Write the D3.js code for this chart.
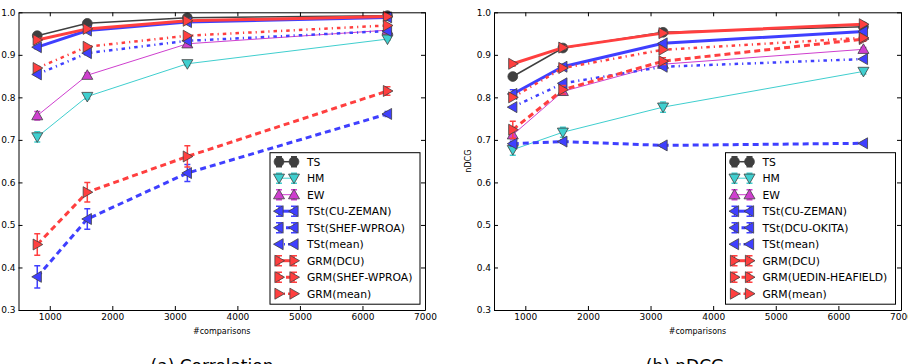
<!DOCTYPE html>
<html>
<head>
<meta charset="utf-8">
<script src="https://cdn.jsdelivr.net/npm/d3@7"></script>
<style>
  body { margin: 0; background: #fff; }
  svg { display: block; }
  text { font-family: "DejaVu Sans", sans-serif; }
</style>
</head>
<body>
<div id="chart"></div>
<script>
// x values shared by both panels
const comparisons = [800, 1600, 3200, 6400];
const xTicks = [1000, 2000, 3000, 4000, 5000, 6000, 7000];
const yTicks = [0.3, 0.4, 0.5, 0.6, 0.7, 0.8, 0.9, 1.0];

// (a) correlation
const corrTS = [0.945, 0.974, 0.987, 0.992];
const corrHM = [0.707, 0.802, 0.879, 0.937];
const corrEW = [0.757, 0.852, 0.926, 0.958];
const corrTStCU = [0.918, 0.957, 0.977, 0.988];
const corrTStShef = [0.378, 0.514, 0.622, 0.761];
const corrTStMean = [0.854, 0.904, 0.933, 0.956];
const corrGrmDCU = [0.935, 0.961, 0.980, 0.990];
const corrGrmShef = [0.454, 0.577, 0.661, 0.815];
const corrGrmMean = [0.869, 0.919, 0.945, 0.969];

const corrErrTS = [0.004, 0.003, 0.002, 0.002];
const corrErrHM = [0.012, 0.006, 0.004, 0.003];
const corrErrEW = [0.010, 0.006, 0.004, 0.003];
const corrErrTStCU = [0.004, 0.003, 0.002, 0.002];
const corrErrTStShef = [0.026, 0.024, 0.020, 0.006];
const corrErrGrmDCU = [0.004, 0.003, 0.002, 0.002];
const corrErrGrmShef = [0.025, 0.023, 0.025, 0.010];

// (b) nDCG
const ndcgTS = [0.849, 0.916, 0.953, 0.966];
const ndcgHM = [0.677, 0.718, 0.777, 0.861];
const ndcgEW = [0.712, 0.814, 0.878, 0.913];
const ndcgTStCU = [0.808, 0.872, 0.927, 0.955];
const ndcgTStOkita = [0.691, 0.696, 0.687, 0.692];
const ndcgTStMean = [0.777, 0.833, 0.872, 0.890];
const ndcgGrmDCU = [0.879, 0.917, 0.951, 0.972];
const ndcgGrmUedin = [0.724, 0.818, 0.885, 0.937];
const ndcgGrmMean = [0.800, 0.869, 0.912, 0.940];

const ndcgErrTS = [0.006, 0.004, 0.003, 0.002];
const ndcgErrHM = [0.013, 0.012, 0.012, 0.006];
const ndcgErrEW = [0.010, 0.008, 0.005, 0.004];
const ndcgErrTStCU = [0.010, 0.006, 0.004, 0.003];
const ndcgErrTStOkita = [0.006, 0.004, 0.003, 0.002];
const ndcgErrGrmDCU = [0.005, 0.004, 0.003, 0.002];
const ndcgErrGrmUedin = [0.020, 0.010, 0.008, 0.005];

const corrLabels = ['TS', 'HM', 'EW', 'TSt(CU-ZEMAN)', 'TSt(SHEF-WPROA)', 'TSt(mean)',
  'GRM(DCU)', 'GRM(SHEF-WPROA)', 'GRM(mean)'];
const ndcgLabels = ['TS', 'HM', 'EW', 'TSt(CU-ZEMAN)', 'TSt(DCU-OKITA)', 'TSt(mean)',
  'GRM(DCU)', 'GRM(UEDIN-HEAFIELD)', 'GRM(mean)'];

// one style per series slot, same in both panels
const styles = [
  {color: '#000', width: 1.5, dash: null, marker: 'circle'},
  {color: '#00bfbf', width: 1, dash: null, marker: 'down'},
  {color: '#bf00bf', width: 1, dash: null, marker: 'up'},
  {color: '#0000ff', width: 3, dash: null, marker: 'left'},
  {color: '#0000ff', width: 3, dash: '6,4', marker: 'left'},
  {color: '#0000ff', width: 2.5, dash: '3.5,4,1.2,4', marker: 'left'},
  {color: '#ff0000', width: 3, dash: null, marker: 'right'},
  {color: '#ff0000', width: 3, dash: '6,4', marker: 'right'},
  {color: '#ff0000', width: 2.5, dash: '3.5,4,1.2,4', marker: 'right'},
];

const width = 908;
const height = 364;
const svg = d3.select('#chart').append('svg')
    .attr('width', width)
    .attr('height', height);

function markerPath(type) {
  const r = 5.5;
  if (type === 'up') return `M0,${-r}L${r},${r * 0.75}L${-r},${r * 0.75}Z`;
  if (type === 'down') return `M0,${r}L${r},${-r * 0.75}L${-r},${-r * 0.75}Z`;
  if (type === 'left') return `M${-r},0L${r * 0.75},${-r}L${r * 0.75},${r}Z`;
  if (type === 'right') return `M${r},0L${-r * 0.75},${-r}L${-r * 0.75},${r}Z`;
  return d3.symbol(d3.symbolCircle, 75)();
}

function drawPanel(left, right, values, errors, labels, yLabel, caption, legendX, legendW) {
  const top = 12.3;
  const bottom = 310;
  const x = d3.scaleLinear().domain([500, 7000]).range([left, right]);
  const y = d3.scaleLinear().domain([0.3, 1.0]).range([bottom, top]);
  const g = svg.append('g');

  const tick = (axis) => axis.tickSizeInner(-4).tickSizeOuter(0);
  g.append('g').attr('transform', `translate(0,${bottom})`)
      .call(tick(d3.axisBottom(x)).tickValues(xTicks).tickPadding(4).tickFormat(d3.format('d')));
  g.append('g').attr('transform', `translate(0,${top})`)
      .call(tick(d3.axisTop(x)).tickValues(xTicks).tickFormat(''));
  g.append('g').attr('transform', `translate(${left},0)`)
      .call(tick(d3.axisLeft(y)).tickValues(yTicks).tickPadding(3).tickFormat(d3.format('.1f')));
  g.append('g').attr('transform', `translate(${right},0)`)
      .call(tick(d3.axisRight(y)).tickValues(yTicks).tickFormat(''));
  g.selectAll('.domain').attr('stroke', '#000');
  g.selectAll('.tick line').attr('stroke', '#000');
  g.selectAll('.tick text').attr('font-size', 9).attr('fill', '#000');

  g.append('text')
      .attr('x', (left + right) / 2).attr('y', 334)
      .attr('text-anchor', 'middle').attr('font-size', 8)
      .text('#comparisons');
  if (yLabel) {
    g.append('text')
        .attr('transform', `translate(${left - 23},${(top + bottom) / 2}) rotate(-90)`)
        .attr('text-anchor', 'middle').attr('font-size', 8)
        .text(yLabel);
  }
  g.append('text')
      .attr('x', caption.x).attr('y', 372)
      .attr('text-anchor', 'middle')
      .attr('font-family', '"Liberation Serif", serif')
      .attr('font-size', 17)
      .text(caption.text);

  const line = d3.line().x((d) => x(d[0])).y((d) => y(d[1]));
  const plot = g.append('g').attr('opacity', 0.75);

  values.forEach((vals, i) => {
    const st = styles[i];
    const pts = comparisons.map((c, j) => [c, vals[j]]);
    const s = plot.append('g');
    s.append('path')
        .attr('d', line(pts))
        .attr('fill', 'none')
        .attr('stroke', st.color)
        .attr('stroke-width', st.width)
        .attr('stroke-dasharray', st.dash);
    if (errors[i]) {
      pts.forEach((p, j) => {
        const e = errors[i][j];
        const px = x(p[0]);
        s.append('path')
            .attr('d', `M${px},${y(p[1] - e)}V${y(p[1] + e)}` +
              `M${px - 3},${y(p[1] - e)}H${px + 3}M${px - 3},${y(p[1] + e)}H${px + 3}`)
            .attr('stroke', st.color)
            .attr('stroke-width', 1.5)
            .attr('fill', 'none');
      });
    }
    s.selectAll('.m').data(pts).enter().append('path')
        .attr('transform', (d) => `translate(${x(d[0])},${y(d[1])})`)
        .attr('d', markerPath(st.marker))
        .attr('fill', st.color)
        .attr('stroke', '#000')
        .attr('stroke-width', 0.8);
  });

  // legend
  const lgTop = 152.7;
  const lg = g.append('g');
  lg.append('rect')
      .attr('x', legendX).attr('y', lgTop)
      .attr('width', legendW).attr('height', 151.5)
      .attr('fill', '#fff').attr('stroke', '#000');
  labels.forEach((lab, i) => {
    const st = styles[i];
    const ly = 161.7 + i * 16.5;
    const x1 = legendX + 9;
    const x2 = legendX + 24;
    const item = lg.append('g').attr('opacity', 0.75);
    item.append('path')
        .attr('d', `M${x1},${ly}H${x2}`)
        .attr('stroke', st.color)
        .attr('stroke-width', st.width)
        .attr('stroke-dasharray', st.dash ? (st.dash === '6,4' ? '4,3' : '2,3,1,3') : null);
    [x1, x2].forEach((mx) => {
      if (errors[i]) {
        item.append('path')
            .attr('d', `M${mx},${ly - 5}V${ly + 5}M${mx - 3},${ly - 5}H${mx + 3}` +
              `M${mx - 3},${ly + 5}H${mx + 3}`)
            .attr('stroke', st.color).attr('stroke-width', 1.5);
      }
      item.append('path')
          .attr('transform', `translate(${mx},${ly})`)
          .attr('d', markerPath(st.marker))
          .attr('fill', st.color)
          .attr('stroke', '#000')
          .attr('stroke-width', 0.8);
    });
    lg.append('text')
        .attr('x', legendX + 37).attr('y', ly + 4)
        .attr('font-size', 10.8)
        .text(lab);
  });
}

drawPanel(18.5, 425,
    [corrTS, corrHM, corrEW, corrTStCU, corrTStShef, corrTStMean, corrGrmDCU, corrGrmShef, corrGrmMean],
    [corrErrTS, corrErrHM, corrErrEW, corrErrTStCU, corrErrTStShef, null, corrErrGrmDCU, corrErrGrmShef, null],
    corrLabels, null, {x: 212, text: '(a) Correlation'}, 270, 150);

drawPanel(494, 901,
    [ndcgTS, ndcgHM, ndcgEW, ndcgTStCU, ndcgTStOkita, ndcgTStMean, ndcgGrmDCU, ndcgGrmUedin, ndcgGrmMean],
    [ndcgErrTS, ndcgErrHM, ndcgErrEW, ndcgErrTStCU, ndcgErrTStOkita, null, ndcgErrGrmDCU, ndcgErrGrmUedin, null],
    ndcgLabels, 'nDCG', {x: 685, text: '(b) nDCG'}, 725.5, 170);
</script>
</body>
</html>
